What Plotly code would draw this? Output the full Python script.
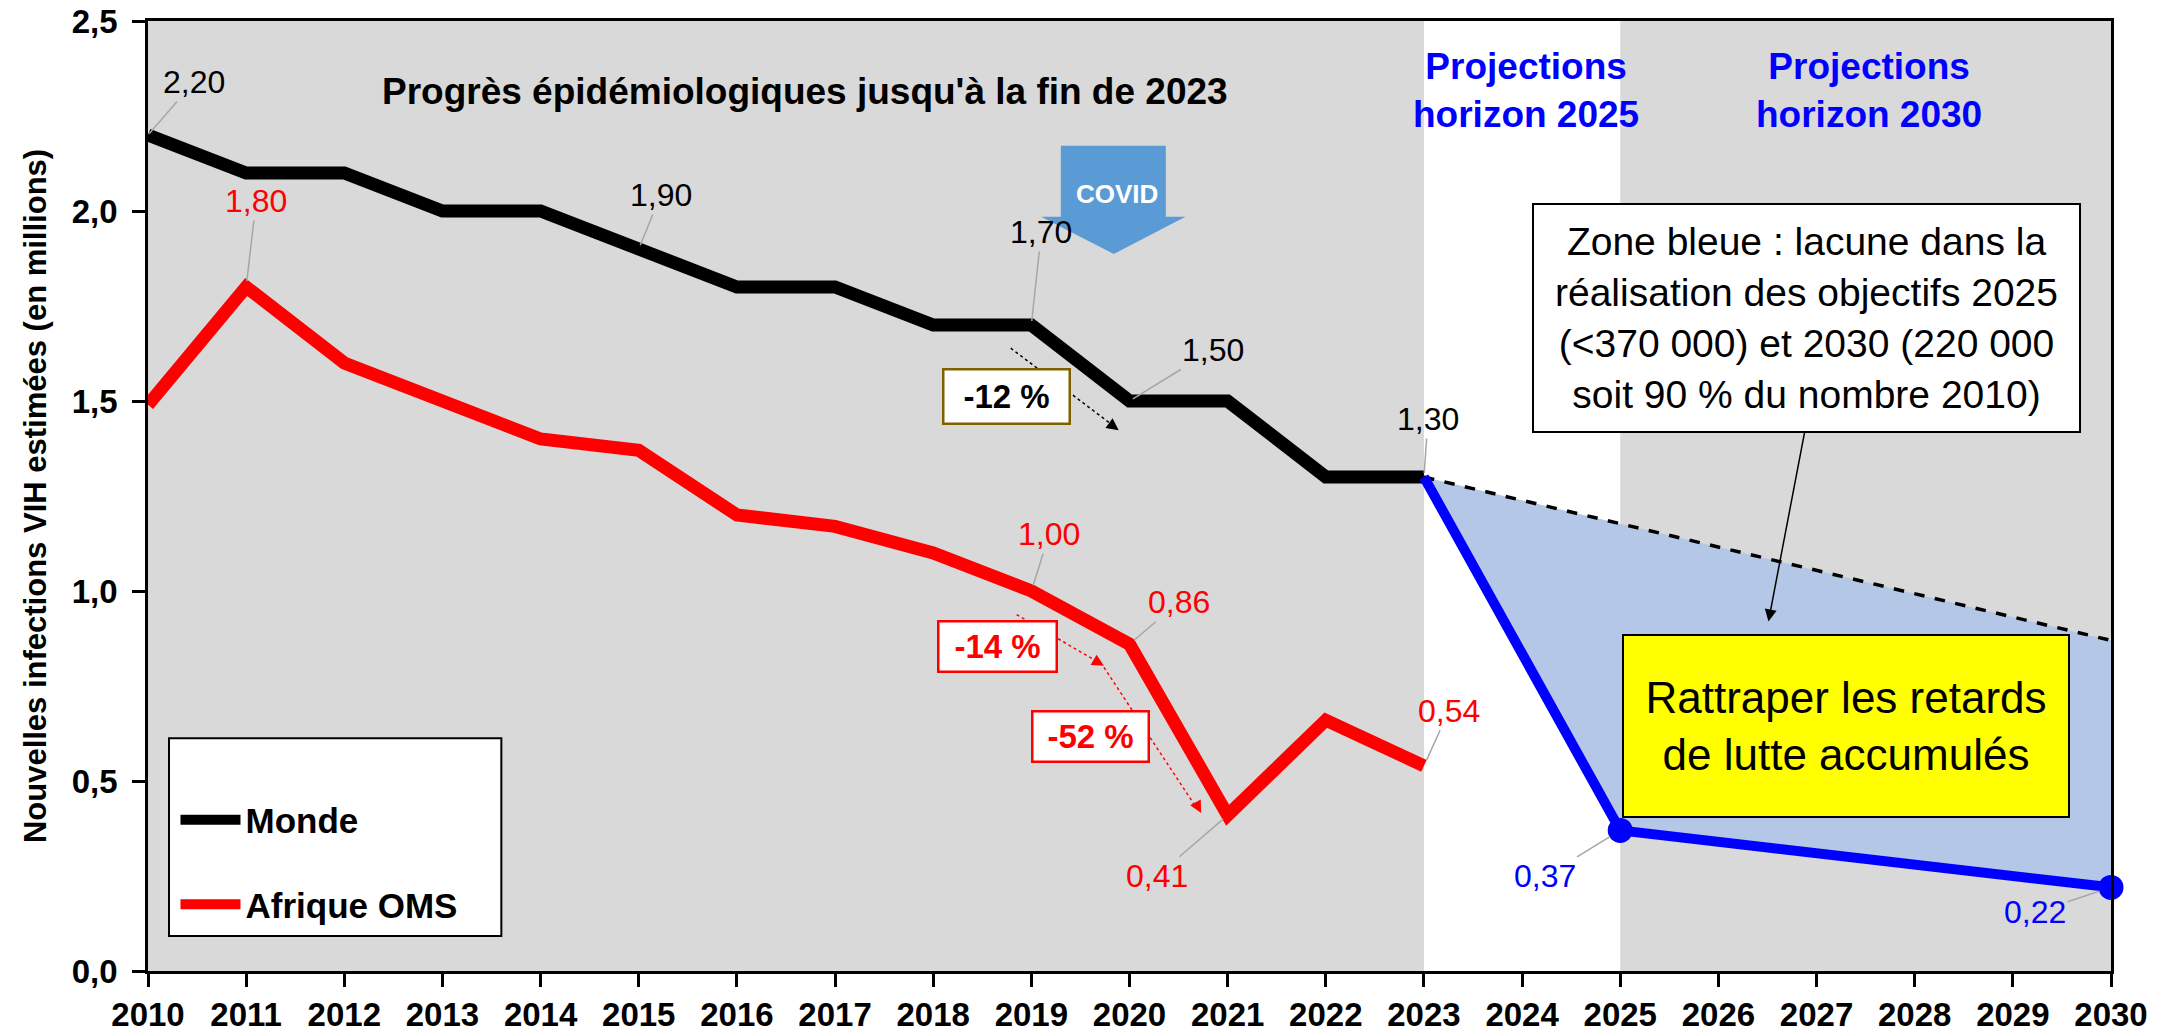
import plotly.graph_objects as go

# ---------------- data ----------------
years = list(range(2010, 2024))
monde = [2.20, 2.10, 2.10, 2.00, 2.00, 1.90, 1.80, 1.80, 1.70, 1.70, 1.50, 1.50, 1.30, 1.30]
afrique = [1.49, 1.80, 1.60, 1.50, 1.40, 1.37, 1.20, 1.17, 1.10, 1.00, 0.86, 0.41, 0.66, 0.54]
proj_years = [2023, 2025, 2030]
proj_values = [1.30, 0.37, 0.22]
trend_years = [2023, 2030]
trend_values = [1.30, 0.87]
x_ticks = list(range(2010, 2031))
y_ticks = [0.0, 0.5, 1.0, 1.5, 2.0, 2.5]

FONT = "Liberation Sans Narrow, Arial Narrow, Liberation Sans, sans-serif"
GRAY_BG = "#D9D9D9"
BLUE = "#0000FF"
RED = "#FF0000"


def fr(v):
    return f"{v:.2f}".replace(".", ",")


fig = go.Figure()

# blue gap zone
fill_x = proj_years + trend_years[::-1] + [proj_years[0]]
fill_y = proj_values + trend_values[::-1] + [proj_values[0]]
fig.add_trace(go.Scatter(x=fill_x, y=fill_y, fill="toself", fillcolor="#B4C7E7",
                         line=dict(width=0), mode="lines", showlegend=False, hoverinfo="skip"))
# trend dashed line
fig.add_trace(go.Scatter(x=trend_years, y=trend_values, mode="lines",
                         line=dict(color="black", width=3.5, dash="dash"), showlegend=False))
# Monde
fig.add_trace(go.Scatter(x=years, y=monde, mode="lines", name="Monde", legendgroup="a",
                         line=dict(color="black", width=13)))
# Afrique
fig.add_trace(go.Scatter(x=years, y=afrique, mode="lines", name="Afrique OMS", legendgroup="b",
                         line=dict(color=RED, width=13)))
# projections
fig.add_trace(go.Scatter(x=proj_years, y=proj_values, mode="lines", showlegend=False,
                         line=dict(color=BLUE, width=10)))
fig.add_trace(go.Scatter(x=proj_years[1:], y=proj_values[1:], mode="markers", showlegend=False,
                         cliponaxis=False,
                         marker=dict(color=BLUE, size=25, opacity=1,
                                     line=dict(width=0, color=BLUE))))

# ---------------- shapes ----------------
shapes = [
    dict(type="rect", xref="x", yref="paper", x0=2010, x1=2023, y0=0, y1=1,
         fillcolor=GRAY_BG, line=dict(width=0), layer="below"),
    dict(type="rect", xref="x", yref="paper", x0=2025, x1=2030, y0=0, y1=1,
         fillcolor=GRAY_BG, line=dict(width=0), layer="below"),
    # legend frame
    dict(type="rect", xref="paper", yref="paper", x0=0.0107, x1=0.180, y0=0.0368, y1=0.245,
         fillcolor="white", line=dict(color="black", width=2), layer="above"),
    # COVID block arrow
    dict(type="path", xref="x", yref="y",
         path="M 2019.30,2.172 L 2020.37,2.172 L 2020.37,1.985 L 2020.57,1.985 "
              "L 2019.84,1.887 L 2019.10,1.985 L 2019.30,1.985 Z",
         fillcolor="#5B9BD5", line=dict(width=0), layer="above"),
    # dashed change arrows
    dict(type="line", xref="x", yref="y", x0=2018.79, y0=1.639, x1=2019.85, y1=1.432,
         line=dict(color="black", width=1.5, dash="dot"), layer="above"),
    dict(type="line", xref="x", yref="y", x0=2018.85, y0=0.938, x1=2019.70, y1=0.810,
         line=dict(color=RED, width=1.5, dash="dot"), layer="above"),
    dict(type="line", xref="x", yref="y", x0=2019.74, y0=0.799, x1=2020.68, y1=0.43,
         line=dict(color=RED, width=1.5, dash="dot"), layer="above"),
]

annotations = []

# data labels with leader lines (x, y, colour, dx, dy, standoff)
labels = [
    (2010, monde[0], "black", 46, -53, 2),
    (2015, monde[5], "black", 22, -54, 4),
    (2019, monde[9], "black", 10, -93, 4),
    (2020, monde[10], "black", 83, -51, 4),
    (2023, monde[13], "black", 4, -58, 4),
    (2011, afrique[1], RED, 10, -86, 6),
    (2019, afrique[9], RED, 18, -57, 6),
    (2020, afrique[10], RED, 49, -42, 6),
    (2021, afrique[11], RED, -71, 61, 6),
    (2023, afrique[13], RED, 25, -55, 6),
    (2025, proj_values[1], BLUE, -75, 46, 12),
    (2030, proj_values[2], BLUE, -76, 25, 12),
]
for x, y, col, ax, ay, so in labels:
    annotations.append(dict(x=x, y=y, xref="x", yref="y", text=fr(y), showarrow=True,
                            arrowhead=0, arrowwidth=1.5, arrowcolor="#A6A6A6", ax=ax, ay=ay,
                            standoff=so,
                            font=dict(family=FONT, size=32, color=col)))

annotations += [
    dict(x=2016.69, y=2.314, xref="x", yref="y", showarrow=False,
         text="Progrès épidémiologiques jusqu'à la fin de 2023",
         font=dict(family=FONT, size=37, color="black", weight="bold")),
    dict(x=2024.04, y=2.318, xref="x", yref="y", showarrow=False,
         text="Projections<br>horizon 2025",
         font=dict(family=FONT, size=37, color=BLUE, weight="bold")),
    dict(x=2027.53, y=2.318, xref="x", yref="y", showarrow=False,
         text="Projections<br>horizon 2030",
         font=dict(family=FONT, size=37, color=BLUE, weight="bold")),
    dict(x=2019.87, y=2.045, xref="x", yref="y", showarrow=False, text="COVID",
         font=dict(family=FONT, size=26, color="white", weight="bold")),
    dict(x=2026.90, y=1.719, xref="x", yref="y", showarrow=False,
         text="Zone bleue : lacune dans la<br>réalisation des objectifs 2025<br>"
              "(<370 000) et 2030 (220 000<br>soit 90 % du nombre 2010)",
         font=dict(family=FONT, size=39, color="black"), bgcolor="white",
         bordercolor="black", borderwidth=2, borderpad=6, width=533, height=214),
    dict(x=2027.30, y=0.646, xref="x", yref="y", showarrow=False,
         text="Rattraper les retards<br>de lutte accumulés",
         font=dict(family=FONT, size=44, color="black"), bgcolor="#FFFF00",
         bordercolor="black", borderwidth=2, borderpad=6, width=432, height=168),
    dict(x=2026.51, y=0.92, xref="x", yref="y", axref="x", ayref="y", ax=2026.88, ay=1.42,
         text="", showarrow=True, arrowhead=2, arrowsize=1.6, arrowwidth=1.5, arrowcolor="black"),
    dict(x=2019.89, y=1.423, xref="x", yref="y", axref="x", ayref="y", ax=2019.80, ay=1.44,
         text="", showarrow=True, arrowhead=2, arrowsize=1.6, arrowwidth=1.5, arrowcolor="black"),
    dict(x=2019.74, y=0.803, xref="x", yref="y", axref="x", ayref="y", ax=2019.64, ay=0.818,
         text="", showarrow=True, arrowhead=2, arrowsize=1.6, arrowwidth=1.5, arrowcolor=RED),
    dict(x=2020.73, y=0.416, xref="x", yref="y", axref="x", ayref="y", ax=2020.68, ay=0.44,
         text="", showarrow=True, arrowhead=2, arrowsize=1.6, arrowwidth=1.5, arrowcolor=RED),
    dict(x=2018.75, y=1.511, xref="x", yref="y", showarrow=False, text="-12 %",
         font=dict(family=FONT, size=33, color="black", weight="bold"), bgcolor="white",
         bordercolor="#7F6000", borderwidth=2.5, borderpad=6, width=112, height=40),
    dict(x=2018.66, y=0.854, xref="x", yref="y", showarrow=False, text="-14 %",
         font=dict(family=FONT, size=33, color=RED, weight="bold"), bgcolor="white",
         bordercolor=RED, borderwidth=2.5, borderpad=5, width=106, height=38),
    dict(x=2019.60, y=0.617, xref="x", yref="y", showarrow=False, text="-52 %",
         font=dict(family=FONT, size=33, color=RED, weight="bold"), bgcolor="white",
         bordercolor=RED, borderwidth=2.5, borderpad=5, width=104, height=38),
]

fig.update_layout(
    template="none",
    width=2175, height=1034,
    margin=dict(l=148, r=64, t=21, b=63, autoexpand=False),
    paper_bgcolor="white", plot_bgcolor="white",
    font=dict(family=FONT, color="black"),
    separators=", ",
    shapes=shapes, annotations=annotations,
    showlegend=True,
    legend=dict(x=0.014, y=0.19, xanchor="left", yanchor="top",
                bgcolor="rgba(0,0,0,0)", borderwidth=0,
                font=dict(family=FONT, size=35, color="black", weight="bold"),
                tracegroupgap=36, itemwidth=60),
    xaxis=dict(range=[2010, 2030], tickvals=x_ticks, ticktext=[str(t) for t in x_ticks],
               automargin=False,
               showgrid=False, zeroline=False, showline=True, linecolor="black", linewidth=2.5,
               mirror=True, ticks="outside", ticklen=13, tickwidth=2.5, tickcolor="black",
               tickfont=dict(family=FONT, size=33, color="black", weight="bold")),
    yaxis=dict(range=[0, 2.5], tickvals=y_ticks, tickformat=".1f", automargin=False,
               showgrid=False, zeroline=False, showline=True, linecolor="black", linewidth=2.5,
               mirror=True, ticks="outside", ticklen=13, tickwidth=2.5, tickcolor="black",
               ticklabelstandoff=8,
               tickfont=dict(family=FONT, size=33, color="black", weight="bold"),
               title=dict(text="Nouvelles infections VIH estimées (en millions)", standoff=16,
                          font=dict(family=FONT, size=31, color="black", weight="bold"))),
)

fig.write_html("out.html", config={"displayModeBar": False},
               post_script="document.body.style.margin='0';")
